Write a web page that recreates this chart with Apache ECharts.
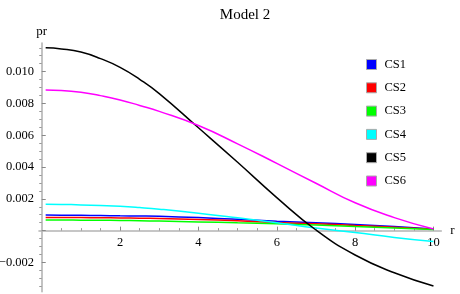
<!DOCTYPE html>
<html>
<head>
<meta charset="utf-8">
<script src="https://cdn.jsdelivr.net/npm/echarts@6/dist/echarts.min.js"></script>
<style>html,body{margin:0;padding:0;background:#fff}#c{width:460px;height:294px}</style>
</head>
<body>
<div id="c"></div>
<script>
const r = [0.1, 0.5, 1, 1.5, 2, 2.5, 3, 4, 5, 6, 7, 8, 9, 10];
const cs1 = [0.00098, 0.00097, 0.00096, 0.00095, 0.00093, 0.00092, 0.00090, 0.00082, 0.00071, 0.00059, 0.00049, 0.00039, 0.00026, 0.00010];
const cs2 = [0.00083, 0.00083, 0.00082, 0.00081, 0.00080, 0.00078, 0.00076, 0.00070, 0.00062, 0.00051, 0.00043, 0.00033, 0.00022, 0.00008];
const cs3 = [0.00067, 0.00067, 0.00066, 0.00065, 0.00064, 0.00062, 0.00060, 0.00055, 0.00049, 0.00043, 0.00035, 0.00026, 0.00017, 0.00007];
const cs4 = [0.00166, 0.00165, 0.00162, 0.00158, 0.00153, 0.00145, 0.00135, 0.00110, 0.00081, 0.00050, 0.00017, -0.00012, -0.00043, -0.00069];
const cs5 = [0.01150, 0.01143, 0.01123, 0.01082, 0.01027, 0.00952, 0.00862, 0.00647, 0.00430, 0.00208, 0.00004, -0.00153, -0.00265, -0.00348];
const cs6 = [0.00885, 0.00882, 0.00870, 0.00849, 0.00822, 0.00787, 0.00750, 0.00661, 0.00546, 0.00423, 0.00298, 0.00175, 0.00082, 0.00010];
const seriesNames = ['CS1', 'CS2', 'CS3', 'CS4', 'CS5', 'CS6'];
const seriesColors = ['#0000ff', '#ff0000', '#00ff00', '#00ffff', '#000000', '#ff00ff'];
const xTickLabels = [2, 4, 6, 8, 10];
const yTickLabels = [-0.002, 0.002, 0.004, 0.006, 0.008, 0.010];
const yMajorTicks = [-0.002, 0, 0.002, 0.004, 0.006, 0.008, 0.010];

const xMinor = [];
for (let i = 1; i <= 20; i++) { const v = i * 0.5; if (i % 4 !== 0) xMinor.push(v); }
const yMinor = [];
for (let i = -7; i <= 23; i++) { const v = i * 0.0005; if (i % 4 !== 0) yMinor.push(+v.toFixed(4)); }

const allData = [cs1, cs2, cs3, cs4, cs5, cs6];
const FONT = 'Liberation Serif';
const axisGray = '#b4b4b4';
const Y_MIN = -0.00384, Y_MAX = 0.0118;
const GRID_TOP = 43, GRID_BOTTOM = 2.3, H = 294;
// shift the x axis up from the grid bottom to the y = 0 line
const gridH = H - GRID_TOP - GRID_BOTTOM;
const zeroShift = -gridH * (0 - Y_MIN) / (Y_MAX - Y_MIN);

const chart = echarts.init(document.getElementById('c'), null, {renderer: 'canvas'});
chart.setOption({
  animation: false,
  backgroundColor: '#fff',
  title: {
    text: 'Model 2', left: 240, top: 3, textAlign: 'center',
    textStyle: {fontFamily: FONT, fontSize: 15, fontWeight: 'normal', color: '#000'}
  },
  legend: {
    orient: 'vertical', left: 361, top: 53, itemWidth: 10, itemHeight: 10, itemGap: 10.3,
    icon: 'rect',
    itemStyle: {borderColor: '#aaaaaa', borderWidth: 1},
    textStyle: {fontFamily: FONT, fontSize: 12.5, color: '#000', padding: [0, 0, 0, 3]},
    data: seriesNames
  },
  grid: {left: 39, right: 18.7, top: GRID_TOP, bottom: GRID_BOTTOM, containLabel: false, outerBoundsMode: 'none'},
  xAxis: [{
    type: 'value', min: -0.07, max: 10.2, position: 'bottom', offset: zeroShift,
    name: 'r', nameLocation: 'end', nameGap: 9,
    nameTextStyle: {fontFamily: FONT, fontSize: 13, color: '#000', align: 'left', verticalAlign: 'middle'},
    axisLine: {onZero: false, lineStyle: {color: axisGray, width: 1.6}},
    axisTick: {show: true, inside: true, length: 4, customValues: xTickLabels, lineStyle: {color: '#888', width: 1}},
    axisLabel: {customValues: xTickLabels, margin: 6, fontFamily: FONT, fontSize: 12.5, color: '#000'},
    splitLine: {show: false}
  }, {
    type: 'value', min: -0.07, max: 10.2, position: 'bottom', offset: zeroShift,
    axisLine: {show: false, onZero: false},
    axisTick: {show: true, inside: true, length: 2.5, customValues: xMinor, lineStyle: {color: '#999', width: 1}},
    axisLabel: {show: false},
    splitLine: {show: false}
  }],
  yAxis: [{
    type: 'value', min: Y_MIN, max: Y_MAX,
    name: 'pr', nameLocation: 'end', nameGap: 5,
    nameTextStyle: {fontFamily: FONT, fontSize: 13, color: '#000', align: 'center', verticalAlign: 'bottom'},
    axisLine: {onZero: true, lineStyle: {color: axisGray, width: 1.6}},
    axisTick: {show: true, inside: true, length: 4, customValues: yMajorTicks, lineStyle: {color: '#888', width: 1}},
    axisLabel: {
      customValues: yTickLabels, margin: 5, fontFamily: FONT, fontSize: 12.5, color: '#000',
      formatter: v => (v < 0 ? '\u2212' : '') + Math.abs(v).toFixed(3)
    },
    splitLine: {show: false}
  }, {
    type: 'value', min: Y_MIN, max: Y_MAX,
    axisLine: {show: false, onZero: true},
    axisTick: {show: true, inside: true, length: 2.5, customValues: yMinor, lineStyle: {color: '#999', width: 1}},
    axisLabel: {show: false},
    splitLine: {show: false}
  }],
  series: seriesNames.map((n, i) => ({
    name: n, type: 'line', smooth: 0.5, showSymbol: false, symbol: 'none',
    xAxisIndex: 0, yAxisIndex: 0,
    color: seriesColors[i],
    lineStyle: {color: seriesColors[i], width: 1.5},
    data: r.map((x, j) => [x, allData[i][j]])
  }))
});
</script>
</body>
</html>
